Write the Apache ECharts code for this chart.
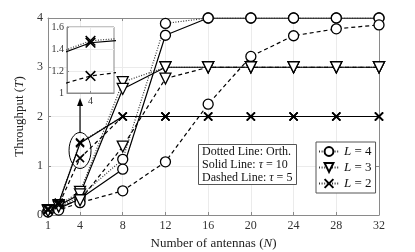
<!DOCTYPE html>
<html><head><meta charset="utf-8">
<script src="https://cdn.jsdelivr.net/npm/echarts@6/dist/echarts.min.js"></script>
<style>html,body{margin:0;padding:0;background:#fff}#c{width:415px;height:252px}</style>
</head><body><div id="c"></div>
<script>
// ---- data ----
const N = [1, 2, 4, 8, 12, 16, 20, 24, 28, 32];
const xTicks = [1, 4, 8, 12, 16, 20, 24, 28, 32];
const yTicks = [0, 1, 2, 3, 4];
const insetXTicks = [4];
// L = 4 (circles)
const L4_orth  = [0.08, 0.15, 0.38, 1.13, 3.89, 4.00, 4.00, 4.00, 4.00, 4.00];
const L4_tau10 = [0.07, 0.13, 0.33, 0.93, 3.65, 4.00, 4.00, 4.00, 4.00, 4.00];
const L4_tau5  = [0.06, 0.10, 0.25, 0.49, 1.08, 2.25, 3.22, 3.64, 3.78, 3.86];
// L = 3 (triangles)
const L3_orth  = [0.10, 0.20, 0.47, 2.70, 3.00, 3.00, 3.00, 3.00, 3.00, 3.00];
const L3_tau10 = [0.10, 0.19, 0.42, 2.56, 3.00, 3.00, 3.00, 3.00, 3.00, 3.00];
const L3_tau5  = [0.08, 0.17, 0.30, 1.39, 2.77, 3.00, 3.00, 3.00, 3.00, 3.00];
// L = 2 (crosses)
const L2_orth  = [0.12, 0.25, 1.475, 2.00, 2.00, 2.00, 2.00, 2.00, 2.00, 2.00];
const L2_tau10 = [0.12, 0.24, 1.457, 2.00, 2.00, 2.00, 2.00, 2.00, 2.00, 2.00];
const L2_tau5  = [0.10, 0.20, 1.155, 2.00, 2.00, 2.00, 2.00, 2.00, 2.00, 2.00];
const legendNames = ['L = 4', 'L = 3', 'L = 2'];

// ---- styling ----
const FONT = 'Liberation Serif';
const AX = '#8a8a8a';
const GRIDC = '#ebebeb';
const crossPath = 'path://M0,0L10,10M10,0L0,10';
const SYM = {
  c: {symbol: 'circle', size: 10, rot: 0},
  t: {symbol: 'triangle', size: 11, rot: 180},
  x: {symbol: crossPath, size: 8, rot: 0}
};
const LT = {
  dot:  {type: [1, 1.6], width: 1.2, color: '#333'},
  sol:  {type: 'solid', width: 1.2, color: '#000'},
  dash: {type: [4, 3], width: 1.2, color: '#000'}
};
function pairs(y) { return N.map((n, i) => [n, y[i]]); }
function mk(name, y, s, lt, axis, symScale, z) {
  const sc = symScale || 1;
  return {
    name: name, type: 'line', data: pairs(y),
    xAxisIndex: axis, yAxisIndex: axis, z: z || 2,
    symbol: SYM[s].symbol, symbolSize: SYM[s].size * sc, symbolRotate: SYM[s].rot,
    symbolKeepAspect: true, showSymbol: true, clip: true,
    lineStyle: Object.assign({}, LT[lt]),
    itemStyle: {color: '#fff', borderColor: '#000', borderWidth: s === 'x' ? 1.6 : 1.3},
    emphasis: {disabled: true}, animation: false
  };
}

const series = [
  mk('L = 4', L4_orth, 'c', 'dot', 0),
  mk('L4 tau10', L4_tau10, 'c', 'sol', 0),
  mk('L4 tau5', L4_tau5, 'c', 'dash', 0),
  mk('L = 3', L3_orth, 't', 'dot', 0),
  mk('L3 tau10', L3_tau10, 't', 'sol', 0),
  mk('L3 tau5', L3_tau5, 't', 'dash', 0),
  mk('L = 2', L2_orth, 'x', 'dot', 0),
  mk('L2 tau10', L2_tau10, 'x', 'sol', 0),
  mk('L2 tau5', L2_tau5, 'x', 'dash', 0),
  // inset (zoom around N = 4)
  mk('inset orth', L2_orth, 'x', 'dot', 2, 1.2, 12),
  mk('inset tau10', L2_tau10, 'x', 'sol', 2, 1.2, 12),
  mk('inset tau5', L2_tau5, 'x', 'dash', 2, 1.2, 12)
];

const chart = echarts.init(document.getElementById('c'), null, {renderer: 'canvas'});
const tickCommon = {inside: true, length: 3, lineStyle: {color: AX, width: 1}};
chart.setOption({
  animation: false,
  backgroundColor: '#fff',
  textStyle: {fontFamily: FONT},
  grid: [
    {left: 48, right: 36, top: 18, bottom: 37, show: false, outerBoundsMode: 'none'},
    {left: 67, top: 27, width: 47, height: 66, show: true, backgroundColor: '#fff',
     borderColor: AX, borderWidth: 1, z: 5, outerBoundsMode: 'none'}
  ],
  xAxis: [
    {type: 'value', gridIndex: 0, min: 1, max: 32, position: 'bottom',
     name: 'Number of antennas ({i|N})', nameLocation: 'middle', nameGap: 20,
     nameTextStyle: {fontFamily: FONT, fontSize: 13, color: '#222',
       rich: {i: {fontFamily: FONT, fontStyle: 'italic', fontSize: 13, color: '#222'}}},
     axisLine: {show: true, onZero: false, lineStyle: {color: AX, width: 1}},
     axisTick: Object.assign({customValues: xTicks}, tickCommon),
     axisLabel: {customValues: xTicks, fontFamily: FONT, fontSize: 12, color: '#333', margin: 5},
     splitLine: {show: true, lineStyle: {color: GRIDC, width: 1}}},
    {type: 'value', gridIndex: 0, min: 1, max: 32, position: 'top',
     axisLine: {show: true, onZero: false, lineStyle: {color: AX, width: 1}},
     axisTick: Object.assign({customValues: xTicks}, tickCommon),
     axisLabel: {show: false}, splitLine: {show: false}},
    {type: 'value', gridIndex: 1, min: 3.87, max: 4.13, position: 'bottom', z: 11,
     axisLine: {show: true, onZero: false, lineStyle: {color: AX, width: 1}},
     axisTick: Object.assign({customValues: insetXTicks}, tickCommon, {length: 2}),
     axisLabel: {customValues: insetXTicks, fontFamily: FONT, fontSize: 10, color: '#333', margin: 3},
     splitLine: {show: true, lineStyle: {color: GRIDC, width: 1}}}
  ],
  yAxis: [
    {type: 'value', gridIndex: 0, min: 0, max: 4, interval: 1, position: 'left',
     name: 'Throughput ({i|T})', nameLocation: 'middle', nameGap: 21, nameRotate: 90,
     nameTextStyle: {fontFamily: FONT, fontSize: 13, color: '#222',
       rich: {i: {fontFamily: FONT, fontStyle: 'italic', fontSize: 13, color: '#222'}}},
     axisLine: {show: true, onZero: false, lineStyle: {color: AX, width: 1}},
     axisTick: tickCommon,
     axisLabel: {fontFamily: FONT, fontSize: 12, color: '#333', margin: 5},
     splitLine: {show: true, lineStyle: {color: GRIDC, width: 1}}},
    {type: 'value', gridIndex: 0, min: 0, max: 4, interval: 1, position: 'right',
     axisLine: {show: true, onZero: false, lineStyle: {color: AX, width: 1}},
     axisTick: tickCommon, axisLabel: {show: false}, splitLine: {show: false}},
    {type: 'value', gridIndex: 1, min: 1, max: 1.6, interval: 0.2, position: 'left', z: 11,
     axisLine: {show: true, onZero: false, lineStyle: {color: AX, width: 1}},
     axisTick: Object.assign({}, tickCommon, {length: 2}),
     axisLabel: {fontFamily: FONT, fontSize: 10, color: '#333', margin: 3},
     splitLine: {show: true, lineStyle: {color: GRIDC, width: 1}}}
  ],
  legend: {
    data: legendNames, orient: 'vertical', left: 316, top: 142,
    itemWidth: 20, itemHeight: 11, itemGap: 3,
    padding: [3, 4, 3, 2],
    borderColor: '#555', borderWidth: 1, backgroundColor: '#fff',
    formatter: function (name) { return '{i|L}' + name.slice(1); },
    textStyle: {fontFamily: FONT, fontSize: 13, color: '#111',
      rich: {i: {fontFamily: FONT, fontStyle: 'italic', fontSize: 13, color: '#111'}}},
    selectedMode: false
  },
  title: {
    text: 'Dotted Line: Orth.\nSolid Line: {i|τ} = 10\nDashed Line: {i|τ} = 5',
    left: 198, top: 144, padding: [1, 4, 1, 4],
    borderColor: '#555', borderWidth: 1, backgroundColor: '#fff',
    textStyle: {fontFamily: FONT, fontSize: 12, fontWeight: 'normal', color: '#111', lineHeight: 13,
      rich: {i: {fontFamily: FONT, fontStyle: 'italic', fontSize: 12, lineHeight: 13, color: '#111'}}}
  },
  series: series
});

// annotation: ellipse around the N = 4, L = 2 points and an arrow to the inset
const c = chart.convertToPixel({xAxisIndex: 0, yAxisIndex: 0}, [4, 1.31]);
const rx = 11, ry = 18;
const tipY = chart.convertToPixel({xAxisIndex: 2, yAxisIndex: 2}, [4, 1])[1] + 5;
chart.setOption({
  graphic: [
    {type: 'ellipse', shape: {cx: c[0], cy: c[1], rx: rx, ry: ry},
     style: {fill: 'none', stroke: '#000', lineWidth: 1}, z: 10},
    {type: 'line', shape: {x1: c[0], y1: c[1] - ry, x2: c[0], y2: tipY + 4},
     style: {stroke: '#000', lineWidth: 1.2}, z: 10},
    {type: 'polygon', shape: {points: [[c[0], tipY], [c[0] - 3, tipY + 8], [c[0] + 3, tipY + 8]]},
     style: {fill: '#000'}, z: 10}
  ]
});
</script>
</body></html>
